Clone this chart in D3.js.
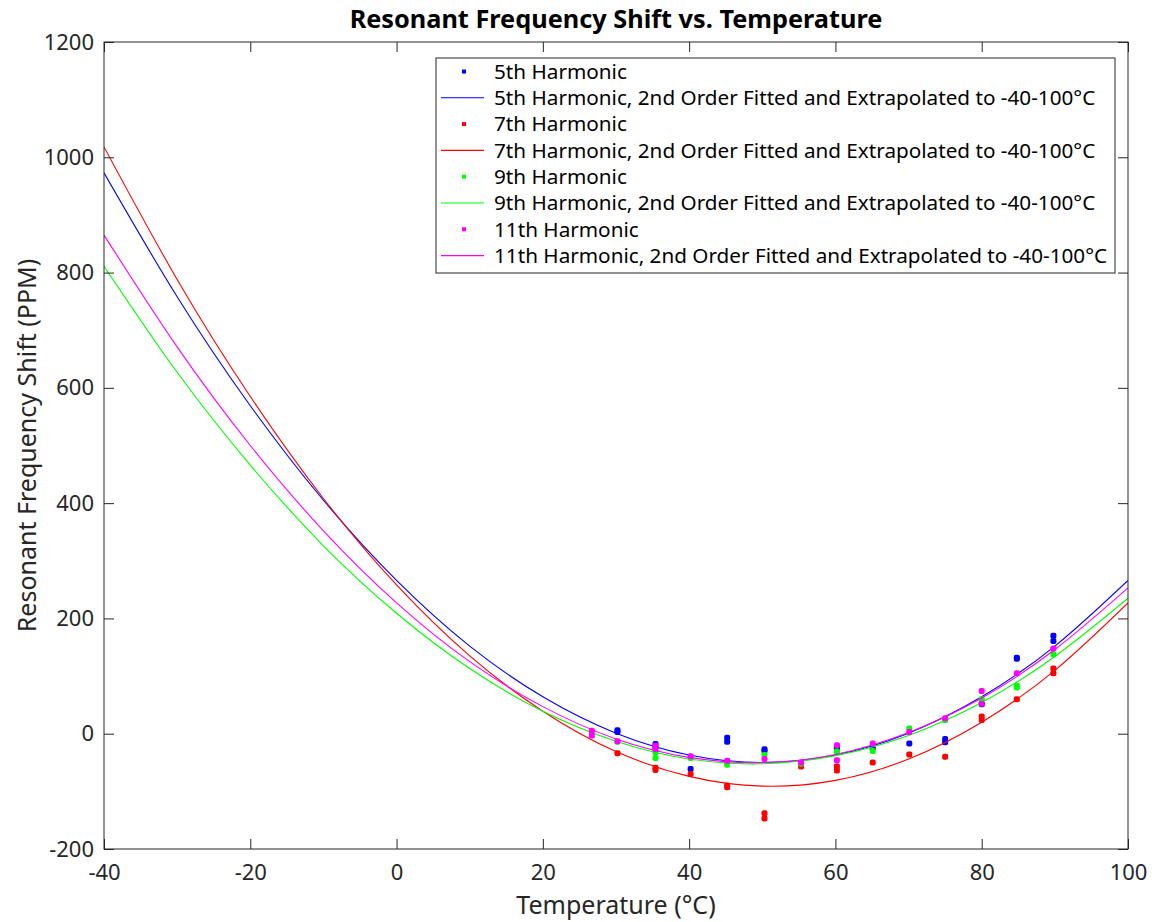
<!DOCTYPE html>
<html>
<head>
<meta charset="utf-8">
<script src="https://cdn.jsdelivr.net/npm/d3@7"></script>
<style>
  body { margin: 0; background: #fff; }
  svg { font-family: "Noto Sans", "Open Sans", sans-serif; }
</style>
</head>
<body>
<svg id="plot1"></svg>
<script>
// tick values
var xTicks = [-40, -20, 0, 20, 40, 60, 80, 100];
var yTicks = [-200, 0, 200, 400, 600, 800, 1000, 1200];

// measured points (temperature, ppm)
var h5T = [30.2, 30.2, 35.4, 35.4, 40.2, 45.2, 45.2, 50.3, 50.3, 55.3, 60.2, 60.2, 65.1, 70.1, 75.0, 75.0, 80.0, 84.8, 84.8, 89.8, 89.8];
var h5Y = [6, 3, -18, -24, -61, -7, -14, -27, -30, -52, -22, -27, -25, -17, -9, -15, 51, 132, 130, 170, 161];
var h7T = [30.2, 35.4, 35.4, 40.2, 45.2, 45.2, 50.3, 50.3, 55.3, 60.2, 60.2, 65.1, 70.1, 75.0, 80.0, 80.0, 84.8, 89.8, 89.8];
var h7Y = [-34, -59, -63, -70, -90, -93, -138, -147, -57, -57, -64, -50, -36, -40, 30, 24, 60, 113, 105];
var h9T = [30.2, 35.4, 35.4, 40.2, 45.2, 50.3, 55.3, 60.2, 65.1, 70.1, 75.0, 80.0, 84.8, 84.8, 89.8];
var h9Y = [-14, -32, -42, -42, -54, -37, -52, -31, -30, 9, 24, 60, 83, 80, 138];
var h11T = [26.7, 26.7, 30.2, 35.4, 35.4, 40.2, 45.2, 50.3, 55.3, 60.2, 60.2, 65.1, 70.1, 75.0, 80.0, 80.0, 84.8, 89.8];
var h11Y = [5, -3, -13, -21, -27, -39, -47, -44, -50, -20, -46, -17, 3, 27, 74, 52, 105, 148];

// fitted curves every 10 degrees
var fitT = [-40, -30, -20, -10, 0, 10, 20, 30, 40, 50, 60, 70, 80, 90, 100];
var fit5 = [973, 758, 569, 405, 266, 152, 64, 1, -37, -50, -37, 1, 64, 152, 266];
var fit7 = [1018, 788, 585, 408, 258, 135, 39, -31, -74, -91, -81, -44, 20, 110, 227];
var fit9 = [811, 627, 466, 326, 209, 113, 39, -13, -44, -52, -38, -3, 54, 134, 235];
var fit11 = [865, 671, 500, 352, 227, 125, 47, -9, -41, -50, -36, 2, 62, 146, 253];

var names = ['5th Harmonic', '7th Harmonic', '9th Harmonic', '11th Harmonic'];
var colors = ['#0000ff', '#ff0000', '#00ff00', '#ff00ff'];
var fitLabel = ', 2nd Order Fitted and Extrapolated to -40-100\u00b0C';

function draw() {
  var W = 1154, H = 922;
  var pL = 104, pR = 1128, pT = 42, pB = 849;
  var axisClr = '#262626';

  var svg = d3.select('#plot1').attr('width', W).attr('height', H);

  var xs = d3.scaleLinear().domain([-40, 100]).range([pL, pR]);
  var ys = d3.scaleLinear().domain([-200, 1200]).range([pB, pT]);

  svg.append('defs').append('clipPath').attr('id', 'clip')
    .append('rect').attr('x', pL).attr('y', pT)
    .attr('width', pR - pL).attr('height', pB - pT);

  var plot = svg.append('g').attr('clip-path', 'url(#clip)');

  var series = [
    {pt: h5T, py: h5Y, fit: fit5},
    {pt: h7T, py: h7Y, fit: fit7},
    {pt: h9T, py: h9Y, fit: fit9},
    {pt: h11T, py: h11Y, fit: fit11}
  ];

  var line = d3.line()
    .x(function(d) { return xs(d[0]); })
    .y(function(d) { return ys(d[1]); })
    .curve(d3.curveNatural);

  series.forEach(function(s, k) {
    var pts = s.pt.map(function(t, i) { return [t, s.py[i]]; });
    plot.append('g').selectAll('rect').data(pts).enter().append('rect')
      .attr('x', function(d) { return xs(d[0]) - 3; })
      .attr('y', function(d) { return ys(d[1]) - 3; })
      .attr('width', 6).attr('height', 6).attr('rx', 2)
      .attr('fill', colors[k]);
    var fp = fitT.map(function(t, i) { return [t, s.fit[i]]; });
    plot.append('path').datum(fp)
      .attr('d', line)
      .attr('fill', 'none')
      .attr('stroke', colors[k])
      .attr('stroke-width', 1.1);
  });

  // axes, ticks inside on all four sides
  var fmt = function(d) { return String(d); };
  function styleAxis(g) {
    g.select('.domain').remove();
    g.selectAll('.tick line').attr('stroke', axisClr);
    g.selectAll('.tick text').attr('fill', axisClr).style('font-size', '22px')
      .style('font-family', '"Noto Sans", sans-serif');
  }
  svg.append('g').attr('transform', 'translate(0,' + pB + ')')
    .call(d3.axisBottom(xs).tickValues(xTicks).tickSize(-10).tickPadding(15).tickFormat(fmt))
    .call(styleAxis);
  svg.append('g').attr('transform', 'translate(0,' + pT + ')')
    .call(d3.axisTop(xs).tickValues(xTicks).tickSize(-10).tickFormat(''))
    .call(styleAxis);
  svg.append('g').attr('transform', 'translate(' + pL + ',0)')
    .call(d3.axisLeft(ys).tickValues(yTicks).tickSize(-10).tickPadding(10).tickFormat(fmt))
    .call(styleAxis);
  svg.append('g').attr('transform', 'translate(' + pR + ',0)')
    .call(d3.axisRight(ys).tickValues(yTicks).tickSize(-10).tickFormat(''))
    .call(styleAxis);

  svg.append('rect').attr('x', pL).attr('y', pT)
    .attr('width', pR - pL).attr('height', pB - pT)
    .attr('fill', 'none').attr('stroke', axisClr).attr('stroke-width', 1);

  // title and labels
  svg.append('text').attr('x', (pL + pR) / 2).attr('y', 28)
    .attr('text-anchor', 'middle').style('font-size', '25.3px').style('font-weight', 'bold')
    .attr('fill', '#000').text('Resonant Frequency Shift vs. Temperature');
  svg.append('text').attr('x', (pL + pR) / 2).attr('y', 914)
    .attr('text-anchor', 'middle').style('font-size', '25px').attr('fill', axisClr)
    .text('Temperature (\u00b0C)');
  svg.append('text').attr('transform', 'translate(36,' + (pT + pB) / 2 + ') rotate(-90)')
    .attr('text-anchor', 'middle').style('font-size', '25px').attr('fill', axisClr)
    .text('Resonant Frequency Shift (PPM)');

  // legend
  var lg = svg.append('g');
  lg.append('rect').attr('x', 436).attr('y', 58).attr('width', 679).attr('height', 215)
    .attr('fill', '#fff').attr('stroke', axisClr).attr('stroke-width', 1);
  var rowH = 26.3, row0 = 71.5;
  names.forEach(function(n, k) {
    var y1 = row0 + rowH * (2 * k), y2 = y1 + rowH;
    lg.append('rect').attr('x', 462).attr('y', y1 - 2).attr('width', 4).attr('height', 4)
      .attr('fill', colors[k]);
    lg.append('text').attr('x', 494).attr('y', y1).attr('dy', '0.35em')
      .style('font-size', '20.7px').attr('fill', '#000').text(n);
    lg.append('line').attr('x1', 441).attr('x2', 484).attr('y1', y2).attr('y2', y2)
      .attr('stroke', colors[k]).attr('stroke-width', 1.1);
    lg.append('text').attr('x', 494).attr('y', y2).attr('dy', '0.35em')
      .style('font-size', '20.7px').attr('fill', '#000').text(n + fitLabel);
  });
}

draw();
</script>
</body>
</html>
